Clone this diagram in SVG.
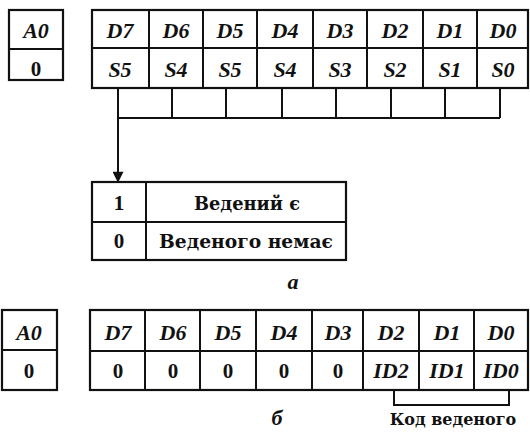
<svg xmlns="http://www.w3.org/2000/svg" width="530" height="436" viewBox="0 0 530 436">
<style>
.b{fill:none;stroke:#111;stroke-width:2.2}
.ln{stroke:#111;stroke-width:2;fill:none}
.it{font-family:"Liberation Serif",serif;font-weight:bold;font-style:italic;font-size:22px;fill:#111;text-anchor:middle}
.dg{font-family:"Liberation Serif",serif;font-weight:bold;font-size:21px;fill:#111;text-anchor:middle}
.cy{font-family:"DejaVu Serif","Liberation Serif",serif;font-weight:bold;font-size:19px;fill:#111;text-anchor:middle}
</style>
<defs>
<marker id="ah" markerWidth="15" markerHeight="11" refX="14" refY="7.5" orient="auto" markerUnits="userSpaceOnUse" viewBox="0 0 15 15">
<path d="M0,0 L15,7.5 L0,15 Z" fill="#111"/>
</marker>
</defs>
<rect width="530" height="436" fill="#fff"/>

<g id="a0-top">
<rect class="b" x="9" y="10" width="54" height="70"/>
<line class="ln" x1="9" y1="49" x2="63" y2="49"/>
<text class="it" x="36" y="38">A0</text>
<text class="dg" x="36" y="76">0</text>
</g>

<g id="reg-top">
<rect class="b" x="92" y="10" width="436" height="78"/>
<line class="ln" x1="92" y1="48" x2="528" y2="48"/>
<line class="ln" x1="149" y1="10" x2="149" y2="88"/>
<line class="ln" x1="203" y1="10" x2="203" y2="88"/>
<line class="ln" x1="257" y1="10" x2="257" y2="88"/>
<line class="ln" x1="313" y1="10" x2="313" y2="88"/>
<line class="ln" x1="367" y1="10" x2="367" y2="88"/>
<line class="ln" x1="423" y1="10" x2="423" y2="88"/>
<line class="ln" x1="477" y1="10" x2="477" y2="88"/>
<text class="it" x="120" y="38">D7</text>
<text class="it" x="176" y="38">D6</text>
<text class="it" x="230" y="38">D5</text>
<text class="it" x="285" y="38">D4</text>
<text class="it" x="340" y="38">D3</text>
<text class="it" x="395" y="38">D2</text>
<text class="it" x="450" y="38">D1</text>
<text class="it" x="503" y="38">D0</text>
<text class="it" x="120" y="77">S5</text>
<text class="it" x="176" y="77">S4</text>
<text class="it" x="230" y="77">S5</text>
<text class="it" x="285" y="77">S4</text>
<text class="it" x="340" y="77">S3</text>
<text class="it" x="395" y="77">S2</text>
<text class="it" x="450" y="77">S1</text>
<text class="it" x="503" y="77">S0</text>
</g>

<g id="slots">
<line class="ln" x1="118" y1="118" x2="500" y2="118"/>
<line class="ln" x1="172" y1="88" x2="172" y2="118"/>
<line class="ln" x1="226" y1="88" x2="226" y2="118"/>
<line class="ln" x1="282" y1="88" x2="282" y2="118"/>
<line class="ln" x1="336" y1="88" x2="336" y2="118"/>
<line class="ln" x1="391" y1="88" x2="391" y2="118"/>
<line class="ln" x1="445" y1="88" x2="445" y2="118"/>
<line class="ln" x1="500" y1="88" x2="500" y2="118"/>
</g>

<g id="connectors">
<line class="ln" x1="118" y1="88" x2="118" y2="182" marker-end="url(#ah)"/>
<path class="ln" d="M394,390 V405 H509 V390"/>
</g>

<g id="status">
<rect class="b" x="92" y="182" width="254" height="78"/>
<line class="ln" x1="92" y1="222" x2="346" y2="222"/>
<line class="ln" x1="146" y1="182" x2="146" y2="260"/>
<text class="dg" x="119" y="210">1</text>
<text class="dg" x="119" y="248">0</text>
<text class="cy" x="247" y="210" textLength="106" lengthAdjust="spacingAndGlyphs">Ведений є</text>
<text class="cy" x="246" y="248" textLength="174" lengthAdjust="spacingAndGlyphs">Веденого немає</text>
</g>

<g id="label-a">
<text class="it" x="293" y="289">a</text>
</g>

<g id="a0-bottom">
<rect class="b" x="2" y="310" width="55" height="80"/>
<line class="ln" x1="2" y1="350" x2="57" y2="350"/>
<text class="it" x="29" y="340">A0</text>
<text class="dg" x="29" y="378">0</text>
</g>

<g id="reg-bottom">
<rect class="b" x="90" y="310" width="438" height="80"/>
<line class="ln" x1="90" y1="351" x2="528" y2="351"/>
<line class="ln" x1="145" y1="310" x2="145" y2="390"/>
<line class="ln" x1="200" y1="310" x2="200" y2="390"/>
<line class="ln" x1="256" y1="310" x2="256" y2="390"/>
<line class="ln" x1="312" y1="310" x2="312" y2="390"/>
<line class="ln" x1="363" y1="310" x2="363" y2="390"/>
<line class="ln" x1="419" y1="310" x2="419" y2="390"/>
<line class="ln" x1="474" y1="310" x2="474" y2="390"/>
<text class="it" x="118" y="340">D7</text>
<text class="it" x="173" y="340">D6</text>
<text class="it" x="228" y="340">D5</text>
<text class="it" x="284" y="340">D4</text>
<text class="it" x="338" y="340">D3</text>
<text class="it" x="391" y="340">D2</text>
<text class="it" x="447" y="340">D1</text>
<text class="it" x="501" y="340">D0</text>
<text class="dg" x="118" y="378">0</text>
<text class="dg" x="173" y="378">0</text>
<text class="dg" x="228" y="378">0</text>
<text class="dg" x="284" y="378">0</text>
<text class="dg" x="338" y="378">0</text>
<text class="it" x="391" y="378">ID2</text>
<text class="it" x="447" y="378">ID1</text>
<text class="it" x="501" y="378">ID0</text>
</g>

<g id="code-label">
<text class="cy" x="453" y="425" style="font-size:16px">Код веденого</text>
</g>

<g id="label-b">
<text class="it" x="277" y="425">б</text>
</g>
</svg>
